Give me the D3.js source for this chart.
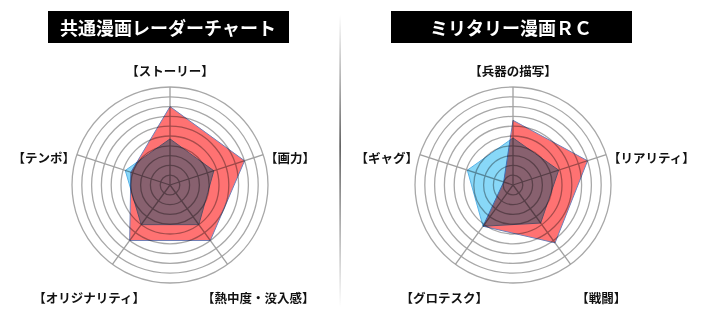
<!DOCTYPE html>
<html>
<head>
<meta charset="utf-8">
<script src="https://cdn.jsdelivr.net/npm/d3@7"></script>
<style>
  body { margin: 0; background: #fff; }
  svg { display: block; font-family: "Noto Sans CJK JP", "Noto Sans", sans-serif; }
</style>
</head>
<body>
<script>
// radar-chart.js

const width = 701;
const height = 321;

const leftTitle = '共通漫画レーダーチャート';
const leftAxes = ['【ストーリー】', '【画力】', '【熱中度・没入感】', '【オリジナリティ】', '【テンポ】'];
const leftRed = [8, 8, 7, 7, 4.2];
const leftBlue = [4.7, 4.7, 5, 5, 4.8];

const rightTitle = 'ミリタリー漫画ＲＣ';
const rightAxes = ['【兵器の描写】', '【リアリティ】', '【戦闘】', '【グロテスク】', '【ギャグ】'];
const rightRed = [6.6, 8, 7.3, 5.2, 1];
const rightBlue = [4.8, 4.9, 4.8, 5.2, 4.9];

const rings = d3.range(1, 11);

const r = d3.scaleLinear().domain([0, 10]).range([0, 98]);

const svg = d3.select('body').append('svg')
    .attr('width', width)
    .attr('height', height);

// 中央の区切り線（上下がうすくなるグラデーション）
const grad = svg.append('defs').append('linearGradient')
    .attr('id', 'sep').attr('x1', 0).attr('y1', 0).attr('x2', 0).attr('y2', 1);
grad.append('stop').attr('offset', '0%').attr('stop-color', '#fff');
grad.append('stop').attr('offset', '45%').attr('stop-color', '#222');
grad.append('stop').attr('offset', '100%').attr('stop-color', '#fff');
svg.append('rect')
    .attr('x', 339.5).attr('y', 15)
    .attr('width', 1.2).attr('height', 292)
    .attr('fill', 'url(#sep)');

function radar(cx, cy, title, axes, red, blue) {
    const g = svg.append('g');
    const angle = d3.scalePoint().domain(d3.range(axes.length + 1)).range([0, 2 * Math.PI]);

    // タイトル
    g.append('rect')
        .attr('x', cx - 122).attr('y', 11)
        .attr('width', 241).attr('height', 32)
        .attr('fill', '#000');
    g.append('text')
        .attr('x', cx - 2).attr('y', 27)
        .attr('text-anchor', 'middle')
        .attr('dominant-baseline', 'central')
        .attr('fill', '#fff')
        .attr('font-size', 18)
        .attr('font-weight', 'bold')
        .text(title);

    const plot = g.append('g').attr('transform', `translate(${cx}, ${cy})`);

    // 目盛りの円
    plot.append('g').selectAll('circle').data(rings).enter().append('circle')
        .attr('r', d => r(d))
        .attr('fill', 'none')
        .attr('stroke', '#a8a8a8')
        .attr('stroke-width', 1.3);

    // 軸線
    plot.append('g').selectAll('line').data(axes).enter().append('line')
        .attr('x2', (d, i) => Math.sin(angle(i)) * r(10))
        .attr('y2', (d, i) => -Math.cos(angle(i)) * r(10))
        .attr('stroke', '#a0a0a0')
        .attr('stroke-width', 1.3);

    const line = d3.lineRadial()
        .angle((d, i) => angle(i))
        .radius(d => r(d))
        .curve(d3.curveLinearClosed);

    plot.append('path')
        .attr('d', line(blue))
        .attr('fill', '#88d8f8')
        .attr('stroke', '#5ab2e6')
        .attr('stroke-width', 1)
        .style('mix-blend-mode', 'multiply');

    plot.append('path')
        .attr('d', line(red))
        .attr('fill', '#ff7272')
        .attr('stroke', '#7080b8')
        .attr('stroke-width', 1)
        .style('mix-blend-mode', 'multiply');

    // ラベル（上・左右・左下・右下で置き方を変える）
    const place = i => {
        const s = Math.sin(angle(i));
        const c = Math.cos(angle(i));
        if (c > 0.9) return {x: cx, y: cy - 115, anchor: 'middle'};
        if (c < -0.5 && s < 0) return {x: cx - 25, y: cy + 112, anchor: 'end'};
        if (c < -0.5) return {x: cx + s * 150, y: cy + 112, anchor: 'middle'};
        return {x: cx + s * 100, y: cy - 28, anchor: s > 0 ? 'start' : 'end'};
    };

    g.append('g').selectAll('text').data(axes).enter().append('text')
        .attr('x', (d, i) => place(i).x)
        .attr('y', (d, i) => place(i).y)
        .attr('text-anchor', (d, i) => place(i).anchor)
        .attr('dominant-baseline', 'central')
        .attr('font-size', 12.5)
        .attr('font-weight', 'bold')
        .attr('fill', '#111')
        .text(d => d);
}

radar(170, 185, leftTitle, leftAxes, leftRed, leftBlue);
radar(513, 185, rightTitle, rightAxes, rightRed, rightBlue);
</script>
</body>
</html>
